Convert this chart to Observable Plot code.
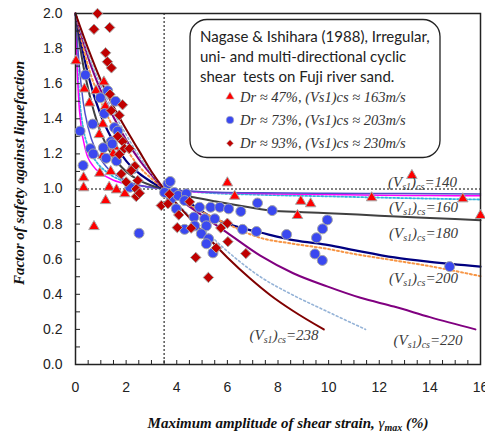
<!DOCTYPE html>
<html><head><meta charset="utf-8">
<script src="https://cdn.jsdelivr.net/npm/d3@7"></script>
<script src="https://cdn.jsdelivr.net/npm/@observablehq/plot@0.6"></script>
<style>body{margin:0;background:#fff}</style>
</head><body><div id="chart"></div>
<script>
// ---- data: [gamma_max (%), factor of safety] ----
const tri47 = [[0.02,1.73],[0.35,1.57],[0.55,1.49],[0.81,1.56],[1.12,1.61],[1.18,1.47],[1.08,1.37],[0.94,1.31],[1.54,1.24],[1.49,1.2],[1.08,1.19],[0.96,1.09],[1.39,1.1],[0.32,1.064],[0.32,1.007],[1.33,1.01],[1.62,0.995],[1.95,0.973],[1.19,0.934],[0.73,0.786],[6.0,1.035],[6.29,0.959],[8.9,0.93],[9.29,0.916],[8.77,0.849],[11.7,0.95],[13.29,1.077],[15.3,0.944],[16.0,0.849]];
const cir73 = [[0.39,1.65],[1.27,1.56],[0.98,1.52],[1.58,1.5],[1.14,1.43],[0.68,1.37],[1.54,1.35],[0.18,1.33],[1.67,1.33],[1.41,1.27],[0.59,1.23],[1.1,1.235],[1.45,1.257],[0.7,1.2],[1.21,1.175],[1.62,1.16],[0.3,1.134],[2.27,1.115],[2.15,1.01],[2.51,0.748],[3.65,1.03],[3.74,1.043],[3.52,0.98],[3.91,0.98],[3.78,0.944],[4.05,0.963],[4.38,0.973],[4.31,0.934],[3.98,0.887],[4.9,0.896],[5.34,0.896],[5.7,0.896],[6.05,0.887],[6.53,0.872],[7.19,0.92],[7.77,0.877],[4.68,0.84],[5.1,0.83],[5.5,0.83],[4.71,0.79],[5.17,0.79],[6.6,0.77],[7.15,0.758],[4.31,0.77],[4.97,0.745],[5.26,0.716],[5.17,0.688],[5.43,0.636],[8.34,0.741],[9.95,0.824],[9.76,0.773],[9.52,0.722],[9.46,0.63],[9.75,0.593],[14.78,0.558]];
const dia93 = [[0.87,2.0],[0.73,1.91],[1.35,1.92],[1.19,1.776],[1.26,1.725],[1.42,1.69],[1.36,1.54],[1.86,1.48],[1.41,1.447],[1.73,1.42],[1.67,1.3],[1.87,1.27],[1.93,1.23],[2.13,1.23],[1.73,1.197],[2.34,1.13],[1.81,1.086],[2.2,1.105],[2.46,1.048],[2.0,1.04],[2.4,1.0],[2.4,0.957],[2.53,0.976],[3.71,0.97],[3.39,0.906],[3.65,0.916],[4.51,0.927],[4.08,0.852],[4.02,0.78],[4.57,0.777],[6.0,0.805],[5.74,0.778],[6.02,0.7],[5.56,0.664],[6.73,0.632],[4.75,0.61],[5.25,0.496]];

// curves (Vs1)cs
const cyan140 = [[0,2],[0.08,1.7],[0.18,1.48],[0.3,1.35],[0.5,1.24],[0.8,1.16],[1.2,1.1],[1.8,1.05],[2.5,1.02],[3.5,1.0],[5,0.98],[7.3,0.967],[10,0.958],[13,0.948],[16,0.94]];
const magenta140 = [[0,2],[0.05,1.75],[0.12,1.52],[0.22,1.36],[0.4,1.22],[0.7,1.13],[1,1.09],[1.5,1.05],[2,1.03],[2.5,1.02],[3,1.01],[3.5,1.0],[4,0.99],[6,0.978],[8,0.972],[10,0.968],[12,0.965],[14,0.963],[16,0.961]];
const blue140 = [[0,2],[0.15,1.7],[0.3,1.5],[0.5,1.35],[0.8,1.22],[1.2,1.13],[1.7,1.07],[2.3,1.03],[3,1.01],[3.5,1.0],[5,0.985],[7.3,0.978],[10,0.976],[13,0.974],[16,0.972]];
const black160 = [[0,2],[0.25,1.75],[0.5,1.57],[0.75,1.43],[1,1.32],[1.5,1.18],[2,1.1],[2.5,1.05],[3,1.02],[3.5,1.0],[4,0.975],[4.67,0.953],[5.5,0.93],[6.5,0.905],[7.7,0.878],[9,0.868],[10,0.862],[12,0.848],[14,0.835],[16,0.822]];
const navy180 = [[0,2],[0.5,1.65],[1,1.42],[1.5,1.27],[2,1.16],[2.5,1.09],[3,1.04],[3.5,1.0],[4,0.96],[4.5,0.92],[5.5,0.83],[6.5,0.78],[7.3,0.752],[8.67,0.707],[10,0.68],[11,0.652],[12.6,0.61],[14,0.585],[16,0.558]];
const orange200 = [[0,2],[0.5,1.7],[1,1.5],[1.5,1.35],[2,1.23],[2.5,1.13],[3,1.06],[3.5,1.0],[4,0.95],[5,0.87],[6,0.8],[7.3,0.722],[8.5,0.69],[9.94,0.659],[11,0.63],[12.6,0.593],[14,0.56],[16,0.503]];
const purple220 = [[0,2],[0.5,1.75],[1,1.56],[1.5,1.41],[2,1.28],[2.5,1.17],[3,1.08],[3.5,1.0],[4,0.95],[5,0.85],[6,0.75],[7.3,0.62],[8.6,0.52],[9.94,0.445],[11.26,0.38],[12.58,0.33],[14,0.27],[15.8,0.2]];
const lightblue230 = [[0,2],[0.5,1.77],[1,1.59],[1.5,1.44],[2,1.31],[2.5,1.19],[3,1.09],[3.5,1.0],[4,0.92],[5,0.78],[6,0.645],[7.3,0.5],[8.6,0.395],[9.9,0.305],[11.46,0.2]];
const darkred238 = [[0,2],[0.5,1.8],[1,1.62],[1.5,1.47],[2,1.34],[2.5,1.22],[3,1.1],[3.5,1.0],[4,0.915],[5,0.76],[6,0.61],[6.9,0.49],[7.7,0.395],[8.6,0.305],[9.81,0.2]];

const vsValues = [140, 160, 180, 200, 238, 220];
const vsLabelX = [13.71, 13.75, 13.75, 13.75, 8.24, 13.93];
const vsLabelY = [1.039, 0.895, 0.748, 0.494, 0.169, 0.141];

const xTicks = [0, 2, 4, 6, 8, 10, 12, 14, 16];
const yTicks = [0, 0.2, 0.4, 0.6, 0.8, 1.0, 1.2, 1.4, 1.6, 1.8, 2.0];
const xMinor = d3.range(0, 33).map(i => i * 0.5);
const yMinor = d3.range(0, 21).map(i => i * 0.1);

const legendTitle = ["Nagase & Ishihara (1988), Irregular,", "uni- and multi-directional cyclic", "shear  tests on Fuji river sand."];
const legendLabels = ["Dr \u2248 47%, (Vs1)cs \u2248 163m/s", "Dr \u2248 73%, (Vs1)cs \u2248 203m/s", "Dr \u2248 93%, (Vs1)cs \u2248 230m/s"];

const vsTable = vsValues.map((v, i) => ({v, x: vsLabelX[i], y: vsLabelY[i]}));

const serif = "'Liberation Serif', 'Times New Roman', serif";
const mk = {stroke: "#a6a6a6", strokeWidth: 1};

const plot = Plot.plot({
  width: 485, height: 432,
  marginLeft: 75, marginRight: 5, marginTop: 13, marginBottom: 68,
  style: {fontFamily: "'Liberation Sans', Arial, sans-serif", fontSize: "14px", color: "#222", background: "white"},
  x: {domain: [0, 16]},
  y: {domain: [0, 2]},
  marks: [
    Plot.ruleY([1], {stroke: "#000", strokeWidth: 1, strokeDasharray: "2,2"}),
    Plot.ruleX([3.5], {stroke: "#000", strokeWidth: 1, strokeDasharray: "2,2"}),
    Plot.line(cyan140, {stroke: "#30b4dc", strokeWidth: 1.8, strokeDasharray: "2,2", curve: "monotone-x"}),
    Plot.line(magenta140, {stroke: "#ff00ff", strokeWidth: 1.5, curve: "monotone-x"}),
    Plot.line(blue140, {stroke: "#5050c8", strokeWidth: 1.5, curve: "monotone-x"}),
    Plot.line(black160, {stroke: "#404040", strokeWidth: 2, curve: "monotone-x"}),
    Plot.line(navy180, {stroke: "#000080", strokeWidth: 2.2, curve: "monotone-x"}),
    Plot.line(orange200, {stroke: "#f79646", strokeWidth: 2, strokeDasharray: "2,2.5", curve: "monotone-x"}),
    Plot.line(purple220, {stroke: "#800080", strokeWidth: 2, curve: "monotone-x"}),
    Plot.line(lightblue230, {stroke: "#95b3d7", strokeWidth: 1.6, strokeDasharray: "2,2.5", curve: "monotone-x"}),
    Plot.line(darkred238, {stroke: "#800000", strokeWidth: 2, curve: "monotone-x"}),
    Plot.tickX(xMinor, {stroke: "#222", insetTop: 347}),
    Plot.tickY(yMinor, {stroke: "#222", insetRight: 400}),
    Plot.frame({stroke: "#222", strokeWidth: 1.5}),
    Plot.dot(tri47, {symbol: "triangle", r: 3.9, fill: "#ff0000", ...mk}),
    Plot.dot(cir73, {symbol: "circle", r: 5, fill: "#3a48f0", ...mk}),
    Plot.dot(dia93, {symbol: "diamond2", r: 4.7, fill: "#c00000", ...mk}),
    Plot.text(vsTable, {x: "x", y: "y", text: d => String(d.v), ariaLabel: () => "vs-label", fontFamily: serif, fontStyle: "italic", fontSize: 15, fill: "#3a3a3a"}),
    Plot.axisX({ticks: xTicks, tickSize: 0, tickPadding: 18, label: null}),
    Plot.axisY({ticks: yTicks, tickFormat: d3.format(".1f"), tickSize: 0, tickPadding: 13, label: null}),
    Plot.text(["Factor of safety against liquefaction"], {frameAnchor: "left", textAnchor: "middle", lineAnchor: "middle", rotate: -90, dx: -56.5, dy: -16, fontFamily: serif, fontStyle: "italic", fontWeight: "bold", fontSize: 15, fill: "#111"}),
    Plot.text(["Maximum amplitude of shear strain, "], {frameAnchor: "bottom", textAnchor: "middle", lineAnchor: "middle", dx: 10, dy: 59, ariaLabel: () => "x-label", fontFamily: serif, fontStyle: "italic", fontWeight: "bold", fontSize: 15, fill: "#111"})
  ]
});
document.getElementById("chart").append(plot);

const svg = d3.select(plot);
// subscript labels
svg.selectAll('text[aria-label="vs-label"]').each(function() {
  const v = this.textContent;
  const t = d3.select(this).text(null);
  t.append("tspan").text("(V");
  t.append("tspan").attr("font-size", 10).attr("dy", 3).text("s1");
  t.append("tspan").attr("dy", -3).text(")");
  t.append("tspan").attr("font-size", 10).attr("dy", 3).text("cs");
  t.append("tspan").attr("dy", -3).text("=" + v);
});
svg.selectAll('text[aria-label="x-label"]').each(function() {
  const t = d3.select(this);
  const base = this.textContent;
  t.text(null);
  t.append("tspan").text(base);
  t.append("tspan").attr("font-weight", "normal").text("\u03b3");
  t.append("tspan").attr("font-size", 10).attr("dy", 3).text("max");
  t.append("tspan").attr("dy", -3).text(" (%)");
});

// legend box
const lg = svg.append("g").attr("text-anchor", "start");
lg.append("rect").attr("x", 190).attr("y", 19.5).attr("width", 250).attr("height", 138).attr("rx", 17)
  .attr("fill", "white").attr("stroke", "#222").attr("stroke-width", 1.3);
legendTitle.forEach((s, i) => {
  lg.append("text").attr("x", 200).attr("y", 42 + i * 20).attr("font-family", "Lato, 'Open Sans', sans-serif")
    .attr("font-size", 15).attr("fill", "#222").text(s);
});
const lsym = [d3.symbol(d3.symbolTriangle, 30), d3.symbol(d3.symbolCircle, 45), d3.symbol(d3.symbolDiamond2, 30)];
const lfill = ["#ff0000", "#3a48f0", "#c00000"];
legendLabels.forEach((s, i) => {
  const cy = 96.7 + i * 23.3;
  lg.append("path").attr("d", lsym[i]()).attr("transform", `translate(230,${cy})`).attr("fill", lfill[i]).attr("stroke", "#bbb").attr("stroke-width", 0.6);
  lg.append("text").attr("x", 240).attr("y", cy + 5).attr("font-family", serif).attr("font-style", "italic")
    .attr("font-size", 14.5).attr("fill", "#333").text(s);
});
</script>
</body></html>
